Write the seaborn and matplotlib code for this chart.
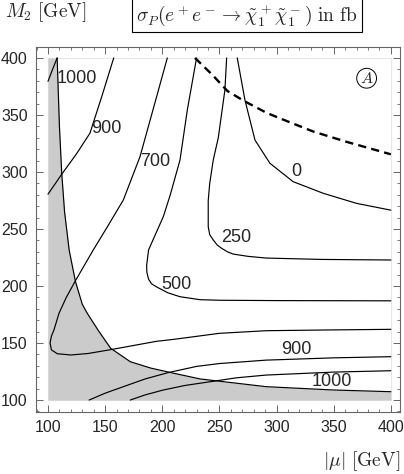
import numpy as np
import pandas as pd
import matplotlib
matplotlib.use("Agg")
import matplotlib.pyplot as plt
import seaborn as sns
from matplotlib.ticker import MultipleLocator

# contour lines of sigma_P (|mu|, M2 in GeV)
c1000_top_mu = [100, 104, 108]
c1000_top_m2 = [379.5, 390, 400]

c900_top_mu = [100, 112, 125, 136.7, 147, 157.5]
c900_top_m2 = [280.5, 298, 316, 334, 366, 400]

c700_mu = [400, 350, 291, 250, 210, 195, 155, 135, 120, 108.1, 103, 101.8, 103, 105.2,
           109.6, 116, 124, 139.6, 152, 165.9, 180.5, 192, 204.4]
c700_m2 = [162, 161.5, 160.8, 158.5, 153.2, 151.5, 144.2, 140.8, 139.5, 140.6, 144, 150, 156,
           161.4, 176, 190, 204.6, 231.6, 252, 275.4, 313.4, 355, 400]

c500_mu = [230, 222, 215.5, 207, 200.9, 193, 188, 186.3, 186.5, 188, 190.5, 195, 205, 215.5, 233, 250, 300, 400]
c500_m2 = [400, 355, 310.5, 280, 260.8, 243, 231.6, 218, 212, 206, 202, 199.2, 194, 190.6, 188, 187.5, 187.2, 187]

c250_mu = [256.3, 254.8, 249, 244.6, 241.5, 240.2, 240.2, 241.5, 244.6, 248, 252, 257, 262, 275, 291, 340, 400]
c250_m2 = [400, 372, 330, 310.5, 290, 275, 252, 245, 240.4, 236, 233, 230, 228, 226, 224.5, 223.3, 222.8]

c0_mu = [265.6, 272.3, 281.1, 294.2, 314.5, 340.8, 369.9, 400]
c0_m2 = [400, 363.2, 328, 307.6, 291.5, 281.3, 272.5, 266.5]

c900_bot_mu = [136, 150, 165.9, 185, 205, 230, 250, 291, 350, 400]
c900_bot_m2 = [100, 106, 111.7, 118.5, 124, 129.5, 132, 135, 137, 138]

c1000_bot_mu = [172, 185, 200.9, 220, 241.6, 265, 291, 350, 400]
c1000_bot_m2 = [100, 104.5, 108.8, 112.8, 116, 119.5, 121.9, 124.5, 125.7]

# excluded region edge (grey)
excl_mu = [108, 110, 112, 114.5, 118.5, 124, 130, 134.4, 144, 154.8, 172, 190, 210, 233, 250, 291, 349.5, 400, 400]
excl_m2 = [400, 340, 299, 265, 231.6, 204, 184, 176, 161, 145.4, 133.6, 128, 123.5, 118.5, 116.5, 111.7, 108.8, 107.3, 100]

# dashed line
dash_mu = [228.6, 244, 257, 272, 291, 303, 332, 361, 400]
dash_m2 = [400, 385, 371, 362, 352, 347, 335.5, 326.5, 315.5]

labels = ["1000", "900", "700", "500", "250", "0", "900", "1000"]

curves = {
    "c1000_top": (c1000_top_mu, c1000_top_m2),
    "c900_top": (c900_top_mu, c900_top_m2),
    "c700": (c700_mu, c700_m2),
    "c500": (c500_mu, c500_m2),
    "c250": (c250_mu, c250_m2),
    "c0": (c0_mu, c0_m2),
    "c900_bot": (c900_bot_mu, c900_bot_m2),
    "c1000_bot": (c1000_bot_mu, c1000_bot_m2),
    "edge": (excl_mu[:-1], excl_m2[:-1]),
}
df = pd.concat([pd.DataFrame({"mu": x, "m2": y, "curve": k}) for k, (x, y) in curves.items()],
               ignore_index=True)

sns.set_style("ticks")
plt.rcParams["font.family"] = ["Liberation Sans", "DejaVu Sans"]
plt.rcParams["mathtext.fontset"] = "cm"

fig = plt.figure(figsize=(4.04, 4.74), dpi=100)
ax = fig.add_axes([36 / 404, 62 / 474, 364 / 404, 365 / 474])

ax.fill_betweenx(excl_m2, 100, excl_mu, color="#cbcbcb", lw=0, zorder=1)
ax.add_patch(plt.Rectangle((100, 100), 300, 300, fill=False, ec="#e6e6e6", lw=0.8, zorder=0))

sns.lineplot(data=df, x="mu", y="m2", units="curve", estimator=None, sort=False,
             color="black", lw=0.85, ax=ax, zorder=3)
sns.lineplot(x=dash_mu, y=dash_m2, sort=False, color="black", lw=1.7,
             linestyle=(0, (3.5, 2.2)), ax=ax, zorder=3)

lab_pos = [(125, 382), (151.3, 338.5), (193.6, 309), (212.5, 201), (265, 242.7),
           (317.6, 300.3), (317.5, 144.7), (348, 116)]
for t, (x, y) in zip(labels, lab_pos):
    ax.text(x, y, t, fontsize=13, ha="center", va="center", zorder=4)

ax.text(378.8, 382.2, r"$A$", fontsize=11.5, ha="center", va="center",
        bbox=dict(boxstyle="circle,pad=0.15", fc="white", ec="black", lw=0.7))

ax.set_xlim(89.5, 408)
ax.set_ylim(89.5, 409.6)
ax.xaxis.set_major_locator(MultipleLocator(50))
ax.yaxis.set_major_locator(MultipleLocator(50))
ax.xaxis.set_minor_locator(MultipleLocator(10))
ax.yaxis.set_minor_locator(MultipleLocator(10))
ax.tick_params(which="both", direction="in", top=True, right=True, color="#666666")
ax.tick_params(which="major", length=5, width=0.7, labelsize=11.5, pad=6)
ax.tick_params(which="minor", length=2.5, width=0.6)
for s in ax.spines.values():
    s.set_color("#666666")
    s.set_linewidth(0.8)
ax.set_xlabel("")
ax.set_ylabel("")

fig.text(5 / 404, 1 - 12 / 474, r"$M_2\ \mathrm{[GeV]}$", fontsize=14, ha="left", va="center")
fig.text(400 / 404, 1 - 461 / 474, r"$|\mu|\ \mathrm{[GeV]}$", fontsize=14, ha="right", va="center")
fig.text(247 / 404, 1 - 15 / 474,
         r"$\sigma_P(e^+e^-\to\tilde{\chi}^+_1\tilde{\chi}^-_1)\ \mathrm{in\ fb}$",
         fontsize=14, ha="center", va="center",
         bbox=dict(boxstyle="square,pad=0.22", fc="white", ec="black", lw=0.8))

fig.savefig("out.png", dpi=100)
